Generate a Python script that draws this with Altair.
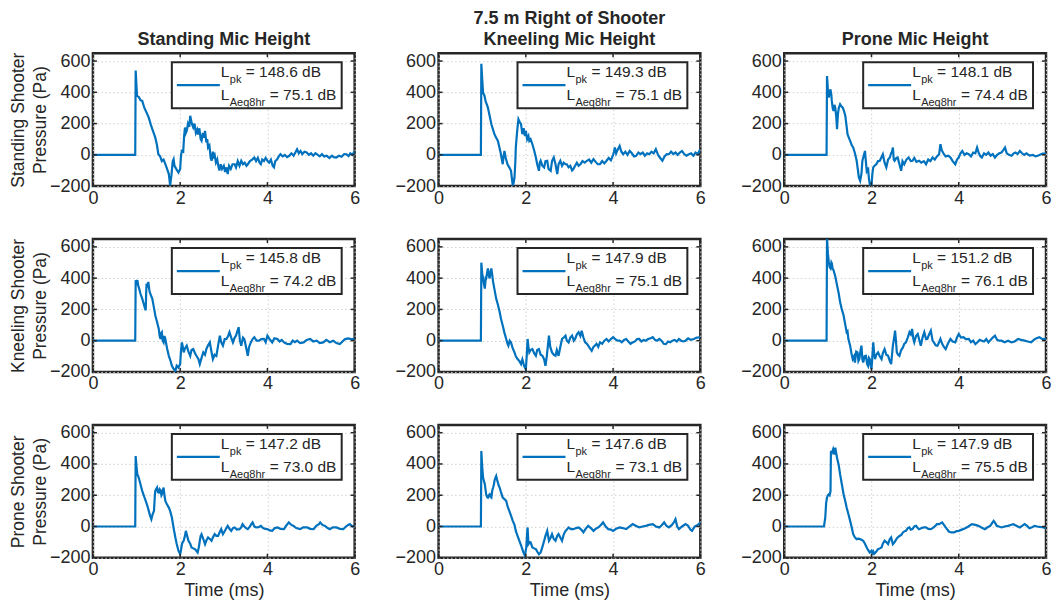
import altair as alt
import pandas as pd

# ---------------- data ----------------
col_titles = ["Standing Mic Height", ["7.5 m Right of Shooter", "Kneeling Mic Height"], "Prone Mic Height"]
row_titles = [["Standing Shooter", "Pressure (Pa)"], ["Kneeling Shooter", "Pressure (Pa)"], ["Prone Shooter", "Pressure (Pa)"]]
x_ticks = [0, 2, 4, 6]
y_ticks = [-200, 0, 200, 400, 600]
lpk = [148.6, 149.3, 148.1, 145.8, 147.9, 151.2, 147.2, 147.6, 147.9]
laeq = [75.1, 75.1, 74.4, 74.2, 75.1, 76.1, 73.0, 73.1, 75.5]

ss = [(0,0),(0.5,0),(0.97,0),(0.98,540),(1.01,380),(1.05,370),(1.09,350),(1.13,345),(1.18,300),(1.23,270),(1.28,238),(1.33,190),(1.38,150),(1.43,110),(1.47,60),(1.5,4),(1.54,-10),(1.58,-40),(1.62,-30),(1.66,-60),(1.7,-90),(1.74,-123),(1.77,-195),(1.8,-130),(1.83,-40),(1.85,-28),(1.87,-70),(1.89,-80),(1.93,-100),(1.96,-113),(2.0,-90),(2.02,0),(2.04,25),(2.07,20),(2.09,120),(2.11,175),(2.13,140),(2.15,153),(2.18,200),(2.21,180),(2.23,250),(2.26,210),(2.28,190),(2.3,175),(2.33,200),(2.36,140),(2.39,160),(2.41,130),(2.44,170),(2.47,100),(2.49,90),(2.52,140),(2.55,110),(2.57,153),(2.6,80),(2.62,100),(2.64,47),(2.67,60),(2.7,-20),(2.72,-38),(2.75,20),(2.77,-10),(2.79,0),(2.82,-50),(2.85,-30),(2.88,-80),(2.9,-100),(2.93,-60),(2.96,-90),(3.0,-70),(3.03,-110),(3.06,-80),(3.09,-123),(3.12,-70),(3.16,-90),(3.2,-60),(3.25,-60),(3.28,-80),(3.32,-40),(3.36,-70),(3.4,-38),(3.44,-60),(3.48,-50),(3.52,-70),(3.55,-60),(3.6,-40),(3.65,-30),(3.7,-17),(3.74,-40),(3.78,-20),(3.82,-50),(3.85,-60),(3.88,-30),(3.92,-40),(3.96,-20),(4.0,-38),(4.04,-50),(4.08,-30),(4.12,-70),(4.15,-80),(4.18,-40),(4.22,-30),(4.26,-10),(4.3,4),(4.35,-10),(4.4,0),(4.45,-15),(4.5,-6),(4.55,10),(4.6,-5),(4.65,20),(4.68,36),(4.72,10),(4.76,25),(4.8,5),(4.85,20),(4.9,15),(4.95,0),(5.0,10),(5.05,-5),(5.1,10),(5.13,4),(5.2,-10),(5.25,5),(5.3,-10),(5.36,-6),(5.42,-20),(5.48,-5),(5.52,-15),(5.58,-17),(5.64,-5),(5.7,-12),(5.76,5),(5.81,4),(5.86,-8),(5.9,10),(5.95,0),(6.0,25)]
sk = [(0,0),(0.97,0),(0.98,583),(1.01,440),(1.02,398),(1.05,380),(1.08,340),(1.11,320),(1.13,302),(1.17,250),(1.21,196),(1.25,160),(1.28,132),(1.32,110),(1.36,89),(1.4,40),(1.43,4),(1.45,-30),(1.47,-60),(1.49,-10),(1.51,25),(1.54,-20),(1.58,-60),(1.62,-80),(1.66,-102),(1.68,-150),(1.7,-195),(1.72,-180),(1.74,-145),(1.76,-40),(1.77,47),(1.8,150),(1.83,228),(1.86,210),(1.89,196),(1.92,132),(1.95,170),(1.98,120),(2.0,153),(2.03,100),(2.06,120),(2.08,89),(2.11,100),(2.15,68),(2.19,30),(2.23,-17),(2.26,-60),(2.28,-80),(2.3,-102),(2.32,-50),(2.34,-38),(2.38,-70),(2.42,-80),(2.45,-40),(2.49,-38),(2.52,-90),(2.57,-102),(2.6,-40),(2.64,-17),(2.68,-60),(2.72,-123),(2.75,-60),(2.79,-38),(2.83,-70),(2.87,-50),(2.91,-60),(2.94,-60),(2.98,-80),(3.02,-70),(3.06,-100),(3.09,-91),(3.13,-70),(3.17,-50),(3.21,-70),(3.25,-60),(3.3,-40),(3.35,-50),(3.4,-38),(3.45,-30),(3.5,-50),(3.55,-27),(3.6,-45),(3.65,-60),(3.7,-60),(3.75,-40),(3.8,-55),(3.85,-38),(3.9,-20),(3.95,-35),(4.0,0),(4.02,20),(4.04,47),(4.07,10),(4.1,30),(4.15,57),(4.19,20),(4.23,4),(4.28,20),(4.33,0),(4.38,25),(4.43,10),(4.48,-10),(4.53,-6),(4.58,15),(4.63,5),(4.68,15),(4.73,-5),(4.78,10),(4.83,4),(4.88,20),(4.93,10),(4.98,36),(5.03,0),(5.08,-20),(5.13,-38),(5.18,-10),(5.23,5),(5.28,4),(5.33,20),(5.38,5),(5.43,15),(5.48,0),(5.53,15),(5.58,25),(5.63,5),(5.68,-5),(5.74,4),(5.79,10),(5.84,-5),(5.89,15),(5.94,5),(6.0,36)]
sp = [(0,0),(0.97,0),(0.98,504),(1.0,420),(1.02,366),(1.04,400),(1.06,419),(1.08,380),(1.09,345),(1.11,300),(1.13,281),(1.15,320),(1.17,300),(1.19,250),(1.21,164),(1.23,260),(1.25,300),(1.27,315),(1.28,323),(1.31,310),(1.34,302),(1.37,280),(1.4,249),(1.43,180),(1.45,132),(1.48,110),(1.51,89),(1.55,60),(1.58,47),(1.62,10),(1.66,-38),(1.69,-100),(1.71,-145),(1.74,-166),(1.77,-120),(1.79,-40),(1.81,-17),(1.85,25),(1.87,-40),(1.89,-102),(1.91,-90),(1.92,-80),(1.94,-150),(1.96,-187),(2.0,-194),(2.02,-120),(2.04,-80),(2.07,-70),(2.11,-60),(2.15,-40),(2.19,-38),(2.22,-20),(2.26,4),(2.3,-50),(2.34,-80),(2.38,-30),(2.42,-17),(2.45,10),(2.47,20),(2.49,47),(2.51,-30),(2.53,-38),(2.57,-20),(2.6,-17),(2.64,-60),(2.68,-102),(2.71,-40),(2.75,-60),(2.8,-30),(2.85,-17),(2.9,-40),(2.94,-38),(2.98,-20),(3.03,-45),(3.09,-38),(3.14,-50),(3.2,-40),(3.25,-60),(3.3,-30),(3.35,-40),(3.4,-17),(3.45,-30),(3.5,-10),(3.55,4),(3.58,68),(3.61,30),(3.66,4),(3.7,-10),(3.76,-5),(3.81,-17),(3.86,-40),(3.92,-60),(3.96,-30),(4.0,-17),(4.04,10),(4.08,25),(4.13,0),(4.18,10),(4.23,4),(4.28,-10),(4.33,15),(4.38,10),(4.42,47),(4.46,10),(4.5,-10),(4.53,-17),(4.58,10),(4.63,0),(4.68,15),(4.73,-5),(4.78,5),(4.83,-17),(4.88,0),(4.93,10),(4.98,15),(5.02,30),(5.06,47),(5.1,10),(5.15,0),(5.21,-6),(5.26,10),(5.3,15),(5.35,5),(5.4,25),(5.45,10),(5.5,0),(5.55,10),(5.58,4),(5.63,-5),(5.7,0),(5.76,-10),(5.81,-6),(5.86,0),(5.92,8),(6.0,8)]
ks = [(0,0),(0.97,0),(0.98,387),(1.0,370),(1.02,387),(1.04,350),(1.06,333),(1.09,300),(1.13,269),(1.17,230),(1.19,210),(1.21,194),(1.22,300),(1.23,366),(1.25,340),(1.27,376),(1.29,330),(1.3,312),(1.33,290),(1.36,269),(1.4,210),(1.43,161),(1.47,120),(1.51,75),(1.53,30),(1.55,11),(1.57,50),(1.58,54),(1.6,0),(1.62,-11),(1.64,30),(1.66,11),(1.7,-50),(1.74,-97),(1.78,-130),(1.81,-161),(1.85,-180),(1.89,-194),(1.92,-160),(1.96,-172),(2.0,-150),(2.02,-60),(2.04,-11),(2.06,-40),(2.08,-75),(2.11,-50),(2.15,-32),(2.19,-70),(2.23,-97),(2.26,-60),(2.3,-54),(2.34,-80),(2.38,-100),(2.42,-118),(2.45,-150),(2.49,-110),(2.53,-75),(2.57,-90),(2.6,-54),(2.64,-30),(2.68,-11),(2.71,-60),(2.75,-118),(2.79,-90),(2.83,-97),(2.87,-30),(2.91,32),(2.94,-10),(2.98,-32),(3.02,10),(3.06,11),(3.1,30),(3.13,54),(3.17,20),(3.21,-11),(3.25,20),(3.28,32),(3.31,60),(3.34,86),(3.37,0),(3.4,-32),(3.44,20),(3.47,11),(3.51,-40),(3.55,-97),(3.58,-40),(3.62,-11),(3.66,10),(3.7,22),(3.75,0),(3.81,0),(3.86,10),(3.92,11),(3.96,-10),(4.0,32),(4.05,10),(4.11,-11),(4.16,15),(4.23,11),(4.28,-5),(4.33,5),(4.38,-11),(4.45,-20),(4.53,-22),(4.58,0),(4.63,-10),(4.68,0),(4.75,-15),(4.83,-11),(4.9,5),(4.98,11),(5.05,-5),(5.13,0),(5.2,-15),(5.28,-11),(5.35,5),(5.43,-10),(5.51,0),(5.58,-15),(5.66,-22),(5.72,-5),(5.78,10),(5.85,15),(5.92,10),(6.0,11)]
kk = [(0,0),(0.97,0),(0.98,499),(1.0,430),(1.02,398),(1.04,360),(1.06,333),(1.08,400),(1.09,398),(1.11,430),(1.13,462),(1.15,420),(1.17,398),(1.19,440),(1.21,462),(1.23,420),(1.25,376),(1.28,330),(1.32,269),(1.36,230),(1.4,183),(1.43,140),(1.47,97),(1.51,50),(1.55,11),(1.58,-20),(1.6,-32),(1.63,0),(1.66,-11),(1.7,-50),(1.74,-75),(1.77,-100),(1.81,-118),(1.85,-130),(1.89,-150),(1.92,-120),(1.96,-161),(2.0,-183),(2.02,-100),(2.04,11),(2.06,-40),(2.08,-75),(2.11,-60),(2.15,-54),(2.19,-80),(2.23,-97),(2.26,-60),(2.3,-54),(2.34,-90),(2.38,-97),(2.42,-120),(2.45,-161),(2.48,-100),(2.51,-20),(2.53,32),(2.56,-40),(2.6,-75),(2.64,-90),(2.68,-97),(2.71,-60),(2.75,-97),(2.79,-40),(2.83,11),(2.87,20),(2.91,32),(2.94,0),(2.98,-11),(3.02,20),(3.06,32),(3.1,0),(3.13,11),(3.17,40),(3.21,54),(3.25,30),(3.28,64),(3.32,20),(3.36,-11),(3.4,-20),(3.43,-32),(3.47,-50),(3.51,-65),(3.55,-40),(3.58,-32),(3.62,-20),(3.66,-40),(3.7,-11),(3.75,-20),(3.8,0),(3.85,11),(3.9,-5),(3.95,10),(4.0,22),(4.05,10),(4.1,0),(4.15,0),(4.2,-10),(4.25,5),(4.3,11),(4.35,-5),(4.4,-20),(4.45,-11),(4.5,-5),(4.55,10),(4.6,11),(4.65,-5),(4.7,5),(4.75,0),(4.8,10),(4.86,15),(4.91,22),(4.96,5),(5.01,0),(5.06,11),(5.11,0),(5.16,-20),(5.21,-22),(5.26,-5),(5.31,-10),(5.36,0),(5.41,5),(5.46,-5),(5.51,11),(5.56,0),(5.61,-5),(5.66,0),(5.72,15),(5.78,5),(5.85,11),(5.92,20),(6.0,22)]
kp = [(0,0),(0.97,0),(0.98,660),(1.0,560),(1.02,505),(1.04,470),(1.06,462),(1.08,500),(1.09,494),(1.11,460),(1.13,451),(1.17,410),(1.21,355),(1.25,300),(1.28,247),(1.32,200),(1.36,161),(1.4,100),(1.43,54),(1.45,60),(1.47,10),(1.51,-32),(1.54,-80),(1.57,-118),(1.6,-100),(1.62,-140),(1.65,-70),(1.68,-75),(1.7,-130),(1.72,-118),(1.75,-60),(1.77,-32),(1.79,-120),(1.81,-140),(1.84,-100),(1.87,-97),(1.9,-150),(1.92,-161),(1.94,-110),(1.96,-118),(1.98,-160),(2.0,-183),(2.02,-100),(2.04,-11),(2.06,-80),(2.08,-118),(2.11,-90),(2.15,-75),(2.19,-100),(2.23,-118),(2.26,-80),(2.3,-54),(2.34,-90),(2.38,-97),(2.42,-130),(2.45,-150),(2.49,-32),(2.52,20),(2.54,64),(2.56,0),(2.58,-75),(2.61,-90),(2.64,-97),(2.68,-60),(2.72,-43),(2.75,-20),(2.79,-11),(2.83,20),(2.87,54),(2.9,40),(2.93,75),(2.96,10),(2.98,-11),(3.02,30),(3.06,43),(3.1,0),(3.13,-32),(3.17,20),(3.21,54),(3.25,10),(3.28,11),(3.32,40),(3.36,64),(3.4,0),(3.43,-11),(3.47,-30),(3.51,-32),(3.55,-10),(3.58,11),(3.62,-20),(3.66,-40),(3.7,-54),(3.75,-20),(3.81,11),(3.86,-5),(3.92,-11),(3.96,20),(4.0,43),(4.05,20),(4.11,22),(4.16,10),(4.23,11),(4.28,-10),(4.33,0),(4.38,-22),(4.43,-10),(4.48,5),(4.53,0),(4.58,-5),(4.63,10),(4.68,-11),(4.73,5),(4.78,20),(4.83,32),(4.88,5),(4.93,0),(4.98,0),(5.05,-10),(5.13,0),(5.21,-11),(5.28,-5),(5.36,11),(5.43,5),(5.51,0),(5.58,-5),(5.66,-11),(5.72,5),(5.78,15),(5.85,22),(5.92,10),(6.0,11)]
ps = [(0,0),(0.97,0),(0.98,451),(1.0,380),(1.02,334),(1.04,320),(1.06,302),(1.09,270),(1.13,228),(1.17,195),(1.21,164),(1.25,130),(1.28,100),(1.31,70),(1.34,47),(1.37,80),(1.4,100),(1.42,200),(1.43,228),(1.45,240),(1.47,249),(1.49,220),(1.51,217),(1.53,238),(1.55,230),(1.57,200),(1.58,206),(1.6,230),(1.62,249),(1.64,200),(1.66,164),(1.7,140),(1.74,121),(1.77,100),(1.81,57),(1.85,-10),(1.89,-70),(1.92,-110),(1.96,-155),(2.0,-177),(2.02,-150),(2.04,-113),(2.06,-100),(2.08,-91),(2.11,-60),(2.13,-28),(2.16,-60),(2.19,-91),(2.23,-110),(2.26,-134),(2.3,-140),(2.34,-145),(2.37,-155),(2.4,-166),(2.43,-130),(2.45,-91),(2.47,-60),(2.49,-49),(2.53,-80),(2.57,-113),(2.6,-90),(2.64,-70),(2.68,-80),(2.72,-91),(2.75,-70),(2.79,-49),(2.83,-60),(2.87,-60),(2.9,-40),(2.94,-17),(2.98,-49),(3.02,-30),(3.06,-10),(3.09,4),(3.13,-15),(3.17,-28),(3.21,-10),(3.25,-6),(3.3,-20),(3.36,-17),(3.4,-5),(3.43,15),(3.47,0),(3.51,-10),(3.55,-17),(3.6,0),(3.63,15),(3.66,26),(3.7,0),(3.74,-6),(3.8,-5),(3.85,4),(3.9,-10),(3.95,-15),(4.0,-17),(4.05,-25),(4.11,-28),(4.17,-10),(4.23,-6),(4.3,-15),(4.38,-17),(4.43,5),(4.49,26),(4.55,10),(4.6,4),(4.66,-10),(4.75,-17),(4.82,-5),(4.91,-6),(4.98,-15),(5.06,-17),(5.12,5),(5.18,15),(5.21,26),(5.26,10),(5.32,4),(5.38,-10),(5.43,-17),(5.5,-5),(5.58,-6),(5.66,-15),(5.74,-17),(5.8,0),(5.85,10),(5.89,15),(5.95,0),(6.0,4)]
pk = [(0,0),(0.97,0),(0.98,483),(1.0,380),(1.02,313),(1.04,290),(1.06,270),(1.08,230),(1.09,206),(1.11,190),(1.13,185),(1.15,200),(1.17,206),(1.19,190),(1.21,185),(1.23,230),(1.25,249),(1.27,270),(1.28,291),(1.3,310),(1.32,323),(1.34,300),(1.36,280),(1.38,260),(1.4,249),(1.43,220),(1.47,185),(1.51,175),(1.55,164),(1.58,130),(1.62,100),(1.66,70),(1.7,36),(1.74,10),(1.77,-28),(1.81,-60),(1.85,-91),(1.89,-120),(1.92,-145),(1.95,-170),(1.98,-187),(2.0,-150),(2.01,-134),(2.03,-40),(2.04,-6),(2.05,-60),(2.06,-113),(2.09,-100),(2.11,-102),(2.15,-134),(2.19,-140),(2.23,-145),(2.26,-160),(2.3,-177),(2.34,-166),(2.38,-130),(2.42,-91),(2.45,-60),(2.49,-28),(2.53,-91),(2.57,-70),(2.6,-49),(2.64,-80),(2.68,-91),(2.72,-60),(2.75,-49),(2.79,-70),(2.83,-91),(2.87,-50),(2.91,-28),(2.94,-20),(2.98,-6),(3.03,-17),(3.09,-17),(3.15,-10),(3.21,-6),(3.27,-20),(3.32,-38),(3.37,-15),(3.43,4),(3.49,-10),(3.55,-28),(3.6,-15),(3.66,-6),(3.72,10),(3.77,26),(3.83,0),(3.89,-17),(3.95,-20),(4.0,-28),(4.07,-15),(4.15,-6),(4.22,-10),(4.3,-17),(4.38,0),(4.45,15),(4.52,5),(4.6,-6),(4.68,0),(4.75,4),(4.82,10),(4.91,15),(4.98,0),(5.06,-6),(5.12,10),(5.17,26),(5.22,5),(5.28,-6),(5.35,10),(5.4,30),(5.43,47),(5.47,0),(5.51,-17),(5.58,0),(5.66,15),(5.72,5),(5.77,-20),(5.81,-28),(5.87,0),(5.94,10),(6.0,26)]
pp = [(0,0),(0.91,0),(0.94,57),(0.96,150),(0.98,185),(1.0,200),(1.02,206),(1.04,200),(1.06,225),(1.07,483),(1.09,470),(1.12,494),(1.14,470),(1.15,462),(1.17,504),(1.19,470),(1.21,440),(1.25,390),(1.28,334),(1.32,270),(1.36,206),(1.4,160),(1.43,121),(1.47,80),(1.51,36),(1.55,-10),(1.58,-49),(1.62,-70),(1.66,-81),(1.7,-78),(1.74,-81),(1.77,-85),(1.81,-91),(1.85,-110),(1.89,-134),(1.92,-150),(1.96,-166),(2.0,-155),(2.02,-170),(2.04,-160),(2.06,-175),(2.08,-170),(2.11,-160),(2.15,-145),(2.19,-140),(2.23,-134),(2.26,-110),(2.3,-91),(2.34,-100),(2.38,-113),(2.42,-80),(2.45,-70),(2.49,-113),(2.53,-100),(2.57,-81),(2.6,-70),(2.64,-60),(2.68,-55),(2.72,-38),(2.76,-30),(2.79,-28),(2.83,-10),(2.87,-6),(2.9,-20),(2.94,-17),(2.98,0),(3.02,4),(3.06,-10),(3.09,-17),(3.15,-10),(3.2,-6),(3.25,-6),(3.3,-15),(3.36,-17),(3.4,-10),(3.45,0),(3.5,15),(3.55,15),(3.58,20),(3.62,26),(3.66,10),(3.7,-6),(3.74,-20),(3.77,-32),(3.83,-38),(3.89,-38),(3.95,-30),(4.0,-28),(4.07,-20),(4.15,-11),(4.22,0),(4.3,15),(4.38,10),(4.45,4),(4.52,-6),(4.6,-17),(4.66,-5),(4.72,4),(4.76,20),(4.8,36),(4.84,20),(4.87,4),(4.92,0),(4.98,-6),(5.05,0),(5.13,4),(5.19,10),(5.25,15),(5.32,5),(5.4,-6),(5.46,5),(5.51,15),(5.56,5),(5.62,-11),(5.68,-5),(5.74,4),(5.8,0),(5.85,-2),(5.92,-5),(6.0,-11)]

series = [ss, sk, sp, ks, kk, kp, ps, pk, pp]

# ---------------- styling ----------------
W, H = 262, 133
FONT = "Liberation Sans"
TXT = "#262626"
BLUE = "#0072BD"
GRID = "#cfcfcf"
FS = 18

x_scale = alt.Scale(domain=[0, 6], nice=False, zero=False)
y_scale = alt.Scale(domain=[-200, 650], nice=False, zero=False)


def panel(i):
    r, c = divmod(i, 3)
    df = pd.DataFrame(series[i], columns=["t", "p"])

    xaxis_kw = dict(values=x_ticks, grid=True, ticks=False, domain=False,
                    labelFontSize=FS, labelColor=TXT, labelFont=FONT, labelPadding=3,
                    gridColor=GRID, gridDash=[1.5, 2.5], gridWidth=1,
                    titleFontSize=FS, titleFontWeight="normal", titleColor=TXT,
                    titleFont=FONT, titlePadding=3, labelFlush=False)
    yaxis_kw = dict(values=y_ticks, grid=True, ticks=False, domain=False,
                    labelFontSize=FS, labelColor=TXT, labelFont=FONT, labelPadding=3,
                    gridColor=GRID, gridDash=[1.5, 2.5], gridWidth=1,
                    titleFontSize=17.5, titleFontWeight="normal", titleColor=TXT,
                    titleFont=FONT, titlePadding=4, titleLineHeight=22,
                    labelFlush=False, minExtent=39, maxExtent=39)

    x_enc = alt.X("t:Q", scale=x_scale, axis=alt.Axis(**xaxis_kw),
                  title="Time (ms)" if r == 2 else None)
    y_enc = alt.Y("p:Q", scale=y_scale, axis=alt.Axis(**yaxis_kw),
                  title=row_titles[r] if c == 0 else None)

    line = alt.Chart(df).mark_line(color=BLUE, strokeWidth=2.2, clip=True).encode(x=x_enc, y=y_enc)

    # inward tick marks on all four sides (same fields/axes as the line layer)
    xt = alt.Chart(pd.DataFrame({"t": x_ticks})).mark_rule(color=TXT, strokeWidth=1.5)
    top_t = xt.encode(x=x_enc, y=alt.value(0), y2=alt.value(4))
    bot_t = xt.encode(x=x_enc, y=alt.value(H - 4), y2=alt.value(H))
    yt = alt.Chart(pd.DataFrame({"p": y_ticks})).mark_rule(color=TXT, strokeWidth=1.5)
    left_t = yt.encode(y=y_enc, x=alt.value(0), x2=alt.value(4))
    right_t = yt.encode(y=y_enc, x=alt.value(W - 4), x2=alt.value(W))

    # legend box (anchored to the upper right of each panel)
    o = W - 265
    leg = alt.Chart(pd.DataFrame({"lpk": [lpk[i]], "laeq": [laeq[i]]}))
    box = leg.mark_rect(fill="white", stroke=TXT, strokeWidth=2).encode(
        x=alt.value(82 + o), x2=alt.value(252 + o), y=alt.value(9), y2=alt.value(55))
    legline = leg.mark_rule(color=BLUE, strokeWidth=2.2).encode(
        x=alt.value(87 + o), x2=alt.value(130 + o), y=alt.value(32))
    big = dict(align="left", baseline="alphabetic", font=FONT, fontSize=15.5, color=TXT)
    small = dict(align="left", baseline="alphabetic", font=FONT, fontSize=11, color=TXT)
    L1 = leg.mark_text(**big).encode(x=alt.value(131 + o), y=alt.value(24), text=alt.value("L"))
    s1 = leg.mark_text(**small).encode(x=alt.value(140 + o), y=alt.value(30), text=alt.value("pk"))
    e1 = leg.transform_calculate(lab="'= ' + format(datum.lpk, '.1f') + ' dB'").mark_text(**big).encode(
        x=alt.value(156 + o), y=alt.value(24), text="lab:N")
    L2 = leg.mark_text(**big).encode(x=alt.value(131 + o), y=alt.value(47), text=alt.value("L"))
    s2 = leg.mark_text(**small).encode(x=alt.value(140 + o), y=alt.value(53), text=alt.value("Aeq8hr"))
    e2 = leg.transform_calculate(lab="'= ' + format(datum.laeq, '.1f') + ' dB'").mark_text(**big).encode(
        x=alt.value(180 + o), y=alt.value(47), text="lab:N")

    layer = alt.layer(line, top_t, bot_t, left_t, right_t, box, legline, L1, s1, e1, L2, s2, e2)
    props = dict(width=W, height=H)
    if r == 0:
        props["title"] = alt.TitleParams(text=col_titles[c], fontSize=FS, fontWeight="bold",
                                         color=TXT, font=FONT, offset=3, anchor="middle",
                                         lineHeight=21)
    return layer.properties(**props)


panels = [panel(i) for i in range(9)]

chart = alt.concat(*panels, columns=3, spacing={"row": 53, "column": 84}, bounds="flush").properties(
    padding={"left": 0, "top": 0, "right": 0, "bottom": 0}
).configure(font=FONT).configure_view(stroke=TXT, strokeWidth=2.5)

chart.save("out.html", embed_options={"renderer": "svg", "actions": False})
